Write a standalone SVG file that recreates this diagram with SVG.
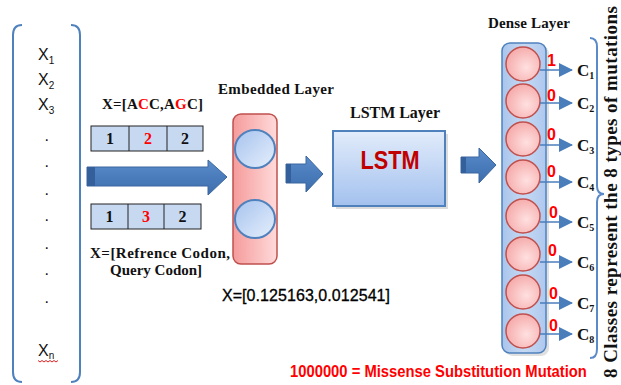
<svg xmlns="http://www.w3.org/2000/svg" width="621" height="385" viewBox="0 0 621 385">
<defs>
<linearGradient id="gArrow" x1="0" y1="0" x2="0" y2="1"><stop offset="0" stop-color="#5b8dcb"/><stop offset="0.5" stop-color="#4a7cbc"/><stop offset="1" stop-color="#3d6dab"/></linearGradient>
<linearGradient id="gLstm" x1="0" y1="0" x2="0" y2="1"><stop offset="0" stop-color="#e2ecfb"/><stop offset="1" stop-color="#a3c1ee"/></linearGradient>
<linearGradient id="gDense" x1="0" y1="0" x2="1" y2="0"><stop offset="0" stop-color="#a9c5ec"/><stop offset="0.5" stop-color="#c6d9f3"/><stop offset="1" stop-color="#aec8ee"/></linearGradient>
<linearGradient id="gEmb" x1="0" y1="0" x2="1" y2="0"><stop offset="0" stop-color="#f59b9b"/><stop offset="1" stop-color="#ffdada"/></linearGradient>
<linearGradient id="gEll" x1="0" y1="0" x2="1" y2="1"><stop offset="0" stop-color="#a6c3ee"/><stop offset="1" stop-color="#e6effc"/></linearGradient>
<radialGradient id="gCirc" cx="0.6" cy="0.6" r="0.7"><stop offset="0" stop-color="#ffe0e0"/><stop offset="1" stop-color="#f4a4a4"/></radialGradient>
<marker id="ah" viewBox="0 0 14 14" refX="13" refY="7" markerWidth="14" markerHeight="14" markerUnits="userSpaceOnUse" orient="auto"><path d="M0,0 L14,7 L0,14 Z" fill="#4a7ebb"/></marker>
</defs>
<style>
.serif{font-family:"Liberation Serif","Times New Roman",serif;font-weight:bold;fill:#111}
.sans{font-family:"Liberation Sans",Arial,sans-serif;fill:#111}
.cell{fill:#c6d9f1;stroke:#222;stroke-width:1}
.num{font-family:"Liberation Serif","Times New Roman",serif;font-weight:bold;font-size:16px;fill:#111;text-anchor:middle}
.bit{font-family:"Liberation Sans",Arial,sans-serif;font-weight:bold;font-size:16px;fill:#ff0000}
.bigarrow{fill:url(#gArrow);stroke:#3a679f;stroke-width:1}
.circ{fill:url(#gCirc);stroke:#c0504d;stroke-width:1.5}
.outline{fill:none;stroke:#4f81bd;stroke-width:2}
.conn{stroke:#4a7ebb;stroke-width:1.5;fill:none}
.clab{font-family:"Liberation Serif","Times New Roman",serif;font-weight:bold;font-size:17px;fill:#111}
.sub{font-size:10px}
</style>

<g id="input-sequence">
<path class="outline" d="M22,25 Q13,25 13,35 L13,372 Q13,382 22,382"/>
<path class="outline" d="M71,25 Q80,25 80,35 L80,372 Q80,382 71,382"/>
<text class="sans" font-size="16" x="38" y="60">X<tspan class="sub" dy="4">1</tspan></text>
<text class="sans" font-size="16" x="38" y="85">X<tspan class="sub" dy="4">2</tspan></text>
<text class="sans" font-size="16" x="38" y="110">X<tspan class="sub" dy="4">3</tspan></text>
<text class="sans" font-size="16" x="44.5" y="140.5">.</text>
<text class="sans" font-size="16" x="44.5" y="166.5">.</text>
<text class="sans" font-size="16" x="44.5" y="194.5">.</text>
<text class="sans" font-size="16" x="44.5" y="220.5">.</text>
<text class="sans" font-size="16" x="44.5" y="248.5">.</text>
<text class="sans" font-size="16" x="44.5" y="274.5">.</text>
<text class="sans" font-size="16" x="44.5" y="302.5">.</text>
<text class="sans" font-size="16" x="38" y="356">X<tspan class="sub" dy="3">n</tspan></text>
<path d="M38,360.5 l2,1.5 l2,-1.5 l2,1.5 l2,-1.5 l2,1.5 l2,-1.5 l2,1.5 l2,-1.5 l2,1.5 l2,-1.5" fill="none" stroke="#e02020" stroke-width="1"/>
</g>

<g id="codon-encoding">
<text class="serif" font-size="15" x="102" y="109" textLength="101">X=[A<tspan fill="#ff0000">C</tspan>C,A<tspan fill="#ff0000">G</tspan>C]</text>
<rect class="cell" x="91" y="126" width="112" height="25"/>
<line x1="129" y1="126" x2="129" y2="151" stroke="#222"/>
<line x1="167" y1="126" x2="167" y2="151" stroke="#222"/>
<text class="num" x="110" y="144">1</text>
<text class="num" x="148" y="144" style="fill:#ff0000">2</text>
<text class="num" x="185" y="144">2</text>
<rect class="cell" x="91" y="204" width="110" height="25"/>
<line x1="128" y1="204" x2="128" y2="229" stroke="#222"/>
<line x1="164" y1="204" x2="164" y2="229" stroke="#222"/>
<text class="num" x="109.5" y="222">1</text>
<text class="num" x="146" y="222" style="fill:#ff0000">3</text>
<text class="num" x="182.5" y="222">2</text>
<text class="serif" font-size="15" x="90" y="258" textLength="140">X=[Refrence Codon,</text>
<text class="serif" font-size="15" x="110" y="275">Query Codon]</text>
</g>

<g id="embedded-layer">
<text class="serif" font-size="15" x="218" y="94" textLength="116">Embedded Layer</text>
<rect x="233" y="114" width="44" height="150" rx="8" fill="url(#gEmb)" stroke="#c0504d" stroke-width="1.5"/>
<ellipse cx="255" cy="149" rx="20" ry="19" fill="url(#gEll)" stroke="#4f81bd" stroke-width="2"/>
<ellipse cx="255" cy="219" rx="20" ry="19" fill="url(#gEll)" stroke="#4f81bd" stroke-width="2"/>
<text class="sans" font-size="16" x="222" y="301" textLength="168" style="fill:#000;stroke:#000;stroke-width:0.3">X=[0.125163,0.012541]</text>
</g>

<g id="lstm-layer">
<text class="serif" font-size="16" x="350" y="118" textLength="90">LSTM Layer</text>
<rect x="336" y="134" width="112" height="75" fill="#9a9a9a" opacity="0.35"/>
<rect x="333" y="131" width="112" height="75" fill="url(#gLstm)" stroke="#4f81bd" stroke-width="2"/>
<text x="390" y="169" font-family="'Liberation Sans',Arial,sans-serif" font-weight="bold" font-size="26" fill="#c00000" text-anchor="middle" textLength="59" lengthAdjust="spacingAndGlyphs">LSTM</text>
</g>

<g id="dense-layer">
<text class="serif" font-size="15" x="488" y="28" textLength="82">Dense Layer</text>
<rect x="505" y="46" width="44" height="310" rx="8" fill="#999" opacity="0.3"/>
<rect x="502" y="43" width="44" height="310" rx="8" fill="url(#gDense)" stroke="#4f81bd" stroke-width="1.5"/>
<circle class="circ" cx="523" cy="64" r="17"/>
<circle class="circ" cx="523" cy="101" r="17"/>
<circle class="circ" cx="523" cy="139" r="17"/>
<circle class="circ" cx="523" cy="177" r="17"/>
<circle class="circ" cx="523" cy="216" r="17"/>
<circle class="circ" cx="523" cy="254" r="17"/>
<circle class="circ" cx="523" cy="292" r="17"/>
<circle class="circ" cx="523" cy="331" r="17"/>
</g>

<g id="outputs">
<text class="bit" x="547" y="66">1</text>
<text class="bit" x="547" y="101">0</text>
<text class="bit" x="547" y="140">0</text>
<text class="bit" x="547" y="177">0</text>
<text class="bit" x="549" y="218">0</text>
<text class="bit" x="548" y="256">0</text>
<text class="bit" x="549" y="299">0</text>
<text class="bit" x="549" y="331">0</text>
<text class="clab" x="577" y="76">C<tspan class="sub" dy="3">1</tspan></text>
<text class="clab" x="577" y="109">C<tspan class="sub" dy="3">2</tspan></text>
<text class="clab" x="577" y="151">C<tspan class="sub" dy="3">3</tspan></text>
<text class="clab" x="577" y="188">C<tspan class="sub" dy="3">4</tspan></text>
<text class="clab" x="577" y="228">C<tspan class="sub" dy="3">5</tspan></text>
<text class="clab" x="577" y="268">C<tspan class="sub" dy="3">6</tspan></text>
<text class="clab" x="577" y="309">C<tspan class="sub" dy="3">7</tspan></text>
<text class="clab" x="577" y="340">C<tspan class="sub" dy="3">8</tspan></text>
</g>

<g id="classes-brace">
<path d="M590,38 Q597,38 597,47 L597,186 Q597,194 604,194 Q597,194 597,202 L597,349 Q597,358 590,358" fill="none" stroke="#5b8ac8" stroke-width="2"/>
<text class="serif" font-size="19" transform="translate(617,378) rotate(-90)" x="0" y="0" textLength="372">8 Classes represent the 8 types of mutations</text>
</g>

<g id="legend">
<text transform="translate(290,377) scale(0.87,1)" x="0" y="0" font-family="'Liberation Sans',Arial,sans-serif" font-weight="bold" font-size="17" fill="#ff0000">1000000 = Missense Substitution Mutation</text>
</g>

<g id="connectors">
<path class="bigarrow" d="M87,167 L208,167 L208,160 L227,177 L208,195 L208,186 L87,186 Z"/>
<rect x="87" y="167" width="8" height="19" fill="#33609a"/>
<path class="bigarrow" d="M286,164 L306,164 L306,156 L323,174 L306,192 L306,183 L286,183 Z"/>
<rect x="286" y="164" width="5" height="19" fill="#33609a"/>
<path class="bigarrow" d="M461,157 L479,157 L479,148 L496,165 L479,183 L479,173 L461,173 Z"/>
<rect x="461" y="157" width="5" height="16" fill="#33609a"/>
<line class="conn" x1="540" y1="70" x2="572" y2="70" marker-end="url(#ah)"/>
<line class="conn" x1="540" y1="103" x2="572" y2="103" marker-end="url(#ah)"/>
<line class="conn" x1="540" y1="145" x2="572" y2="145" marker-end="url(#ah)"/>
<line class="conn" x1="540" y1="182" x2="572" y2="182" marker-end="url(#ah)"/>
<line class="conn" x1="540" y1="222" x2="572" y2="222" marker-end="url(#ah)"/>
<line class="conn" x1="540" y1="262" x2="572" y2="262" marker-end="url(#ah)"/>
<line class="conn" x1="540" y1="303" x2="572" y2="303" marker-end="url(#ah)"/>
<line class="conn" x1="540" y1="334" x2="572" y2="334" marker-end="url(#ah)"/>
</g>
</svg>
